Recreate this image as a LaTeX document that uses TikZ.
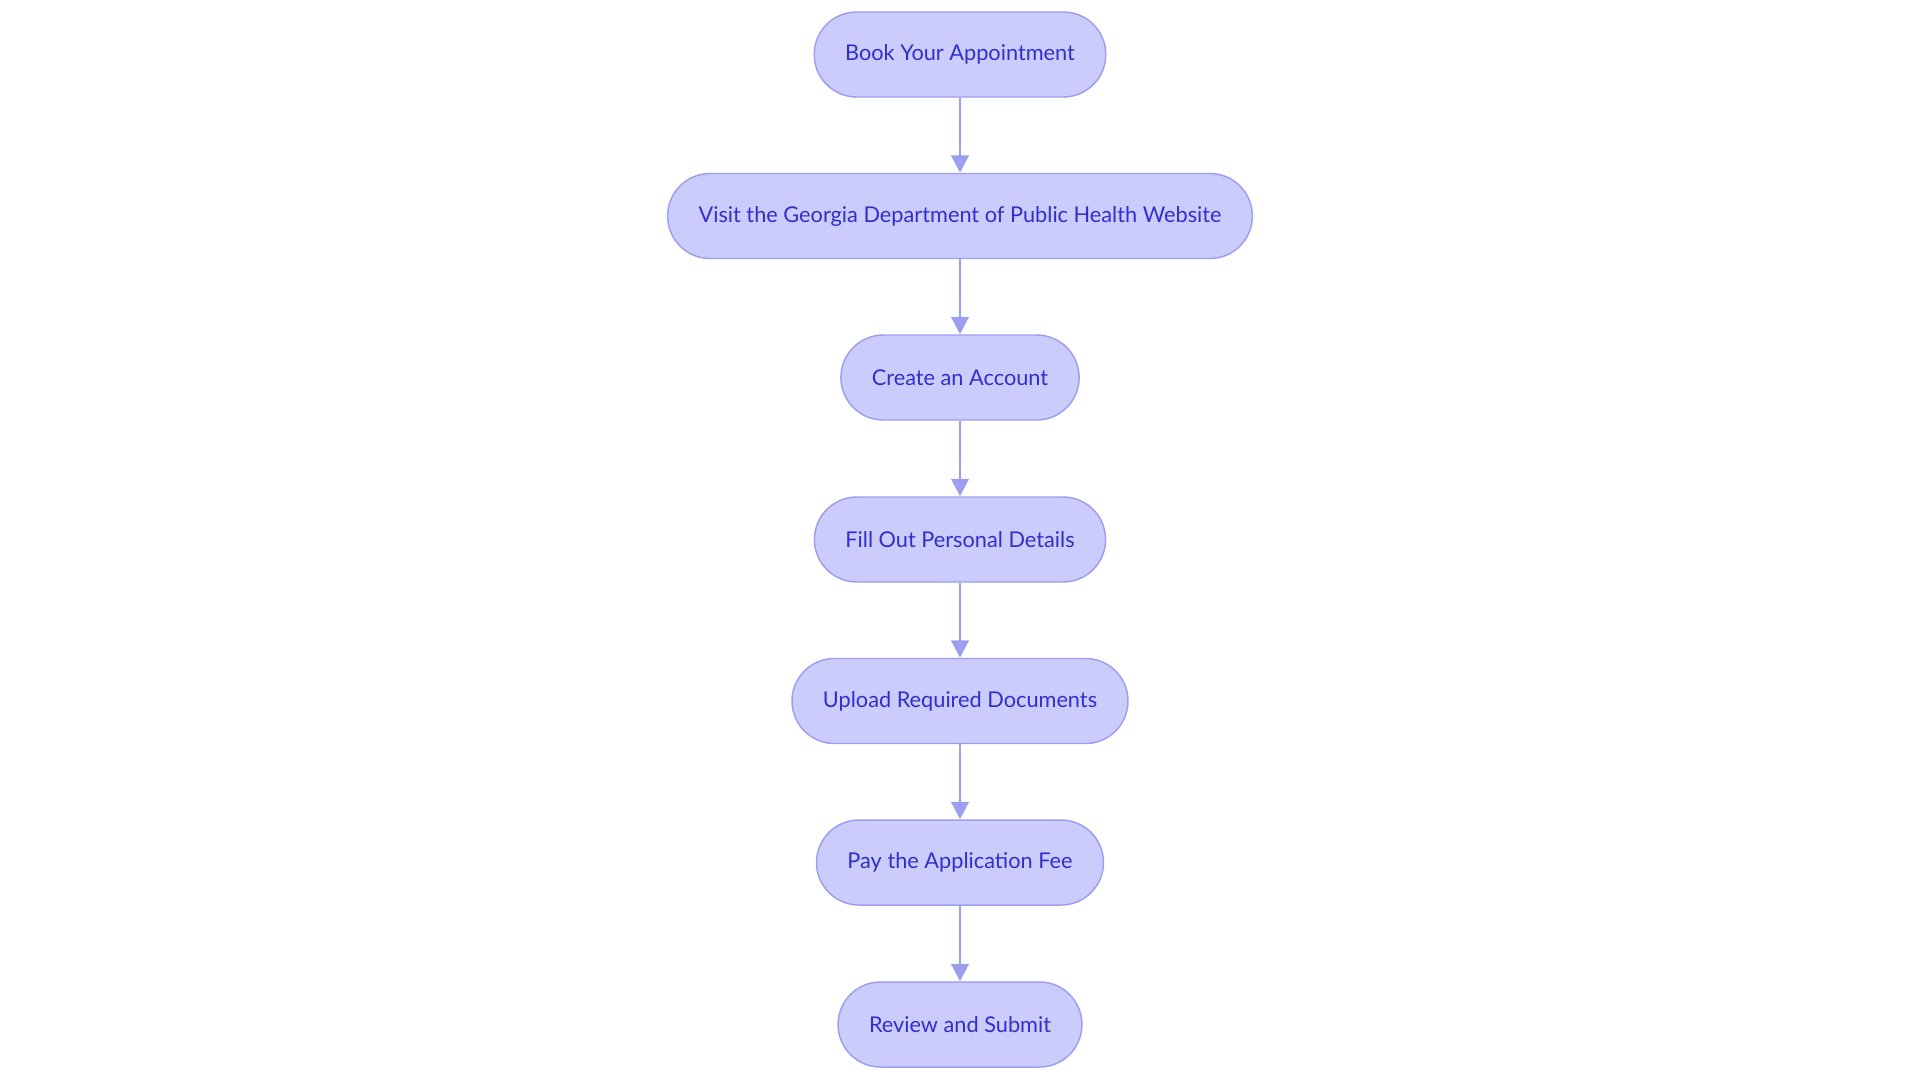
\documentclass[tikz,border=0pt]{standalone}
\usepackage{fontspec}
\setmainfont{Lato}
\usetikzlibrary{arrows.meta}

\definecolor{stepfill}{RGB}{203,203,252}
\definecolor{stepline}{RGB}{156,158,239}
\definecolor{steptext}{RGB}{48,48,204}

\tikzset{
  stepnode/.style={draw=stepline, line width=1.1pt, fill=stepfill, text=steptext,
    rounded corners=31.8pt, minimum height=63.75pt, inner xsep=23.2pt,
    font=\fontsize{16.3pt}{19pt}\selectfont},
  steparrow/.style={draw=stepline, line width=2.2pt,
    -{Triangle[length=13pt,width=13pt]}}
}

\begin{document}
\begin{tikzpicture}[x=0.75pt,y=0.75pt,yscale=-1,xscale=1]
\useasboundingbox (0,0) rectangle (1920,1083);

% Step nodes
\node [stepnode] (book) at (960,54.5) {Book Your Appointment};
\node [stepnode] (visit) at (960,216) {Visit the Georgia Department of Public Health Website};
\node [stepnode] (account) at (960,377.5) {Create an Account};
\node [stepnode] (details) at (960,539.5) {Fill Out Personal Details};
\node [stepnode] (upload) at (960,701) {Upload Required Documents};
\node [stepnode] (fee) at (960,862.5) {Pay the Application Fee};
\node [stepnode] (submit) at (960,1024.5) {Review and Submit};

% Arrows
\draw [steparrow] (book) -- (visit);
\draw [steparrow] (visit) -- (account);
\draw [steparrow] (account) -- (details);
\draw [steparrow] (details) -- (upload);
\draw [steparrow] (upload) -- (fee);
\draw [steparrow] (fee) -- (submit);

\end{tikzpicture}
\end{document}
